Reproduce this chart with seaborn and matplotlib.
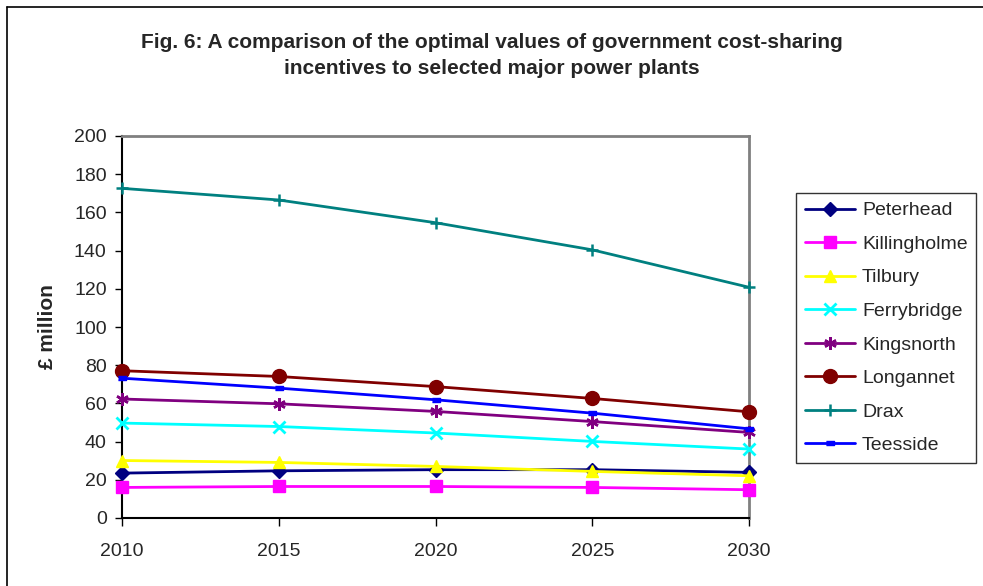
import matplotlib
matplotlib.use("Agg")
import matplotlib.pyplot as plt
from matplotlib.lines import Line2D
import numpy as np
import pandas as pd
import seaborn as sns

sns.set_theme(style="white")
plt.rcParams["font.family"] = ["Liberation Sans", "DejaVu Sans"]

years = [2010, 2015, 2020, 2025, 2030]

peterhead = [23.5, 24.7, 25.3, 25.3, 23.9]
killingholme = [16.0, 16.5, 16.5, 16.0, 14.8]
tilbury = [30.1, 29.1, 27.0, 24.4, 22.1]
ferrybridge = [49.7, 47.9, 44.5, 40.1, 36.1]
kingsnorth = [62.3, 59.8, 55.8, 50.5, 44.8]
longannet = [77.1, 74.1, 68.8, 62.6, 55.6]
drax = [172.6, 166.5, 154.6, 140.4, 120.8]
teesside = [73.2, 68.0, 61.9, 54.9, 46.7]

plants = ["Peterhead", "Killingholme", "Tilbury", "Ferrybridge",
          "Kingsnorth", "Longannet", "Drax", "Teesside"]
series = [peterhead, killingholme, tilbury, ferrybridge,
          kingsnorth, longannet, drax, teesside]

colors = ["#000080", "#FF00FF", "#FFFF00", "#00FFFF",
          "#800080", "#800000", "#008080", "#0000FF"]
bar_marker = [(-1, -0.45), (1, -0.45), (1, 0.45), (-1, 0.45)]
markers = ["D", "s", "^", "x", (6, 2, 0), "o", "+", bar_marker]
msizes = [7, 8.5, 9, 8, 9, 10, 9, 6]
medges = [1, 1, 1, 2, 1.8, 1, 1.8, 1]

df = pd.DataFrame({
    "year": np.tile(years, len(plants)),
    "value": np.concatenate(series),
    "plant": np.repeat(plants, len(years)),
})

fig = plt.figure(figsize=(9.83, 5.86), dpi=100)
ax = fig.add_axes([122 / 983, 1 - 518 / 586, (749 - 122) / 983, (518 - 136) / 586])

for name, col, mk, ms, mew in zip(plants, colors, markers, msizes, medges):
    sub = df[df["plant"] == name]
    sns.lineplot(data=sub, x="year", y="value", ax=ax, color=col,
                 marker=mk, markersize=ms, markeredgewidth=mew,
                 markeredgecolor=col, linewidth=2, label=name,
                 clip_on=False, zorder=3)

ax.set_xlim(2010, 2030)
ax.set_ylim(0, 200)
ax.set_xticks(years)
ax.set_yticks(range(0, 201, 20))
ax.set_xlabel("")
ax.set_ylabel("£ million", fontsize=15, fontweight="bold", labelpad=12)
ax.tick_params(axis="x", direction="out", length=6, width=1, pad=12,
               labelsize=14, color="black", bottom=True)
ax.tick_params(axis="y", direction="out", length=5, width=1, pad=6,
               labelsize=14, color="black", left=True)

for side in ["left", "bottom"]:
    ax.spines[side].set_color("black")
    ax.spines[side].set_linewidth(1.5)
for side in ["top", "right"]:
    ax.spines[side].set_color("#808080")
    ax.spines[side].set_linewidth(2)
    ax.spines[side].set_visible(True)

handles = [Line2D([0], [0], color=c, marker=m, markersize=s, markeredgewidth=e,
                  markeredgecolor=c, linewidth=2)
           for c, m, s, e in zip(colors, markers, msizes, medges)]
leg = ax.legend(handles, plants, loc="upper left",
                bbox_to_anchor=(796 / 983, 1 - 193 / 586),
                bbox_transform=fig.transFigure, fontsize=14,
                frameon=True, fancybox=False, edgecolor="black",
                handlelength=2.6, handletextpad=0.35, labelspacing=0.82,
                borderpad=0.45, borderaxespad=0)
leg.get_frame().set_linewidth(1)

fig.text(0.5, 1 - 43 / 586, "Fig. 6: A comparison of the optimal values of government cost-sharing",
         ha="center", va="center", fontsize=15, fontweight="bold")
fig.text(0.5, 1 - 68 / 586, "incentives to selected major power plants",
         ha="center", va="center", fontsize=15, fontweight="bold")

# chart-area border along the left and top edges
fig.add_artist(Line2D([7 / 983, 7 / 983], [0, 1 - 7 / 586], color="black",
                      linewidth=1.2, transform=fig.transFigure))
fig.add_artist(Line2D([7 / 983, 1], [1 - 7 / 586, 1 - 7 / 586], color="black",
                      linewidth=1.2, transform=fig.transFigure))

fig.savefig("out.png", dpi=100, facecolor="white")
